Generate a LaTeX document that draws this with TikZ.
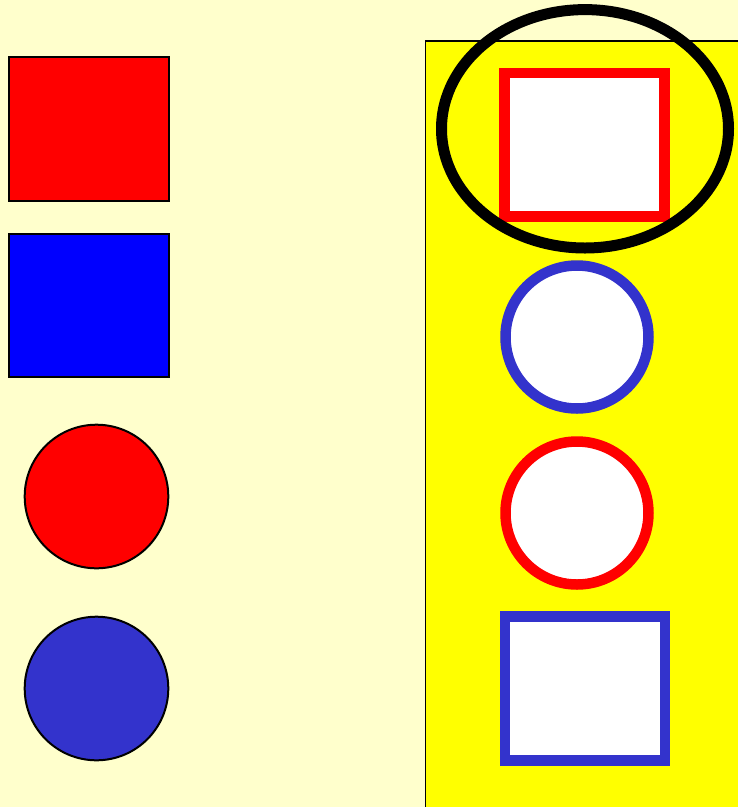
\documentclass[tikz,border=0pt]{standalone}
\usetikzlibrary{shapes.geometric}
\definecolor{bgcream}{RGB}{255,255,204}
\definecolor{panelyellow}{RGB}{255,255,0}
\definecolor{pureblue}{RGB}{0,0,255}
\definecolor{slateblue}{RGB}{51,51,204}
\definecolor{purered}{RGB}{255,0,0}
\tikzset{
  solidshape/.style={draw=black, line width=2pt},
  outlineshape/.style={fill=white, line width=10.5pt},
  panel/.style={fill=panelyellow, draw=black, line width=1.5pt},
  ring/.style={draw=black, line width=11pt}
}
\begin{document}
\begin{tikzpicture}[x=1pt,y=-1pt]
\useasboundingbox (0,0) rectangle (738,807);
\clip (0,0) rectangle (738,807);
\fill[bgcream] (0,0) rectangle (738,807);
% left column
\draw[solidshape, fill=purered] (9,57) rectangle (169,200.5);
\draw[solidshape, fill=pureblue] (9,233.5) rectangle (169,376.5);
\draw[solidshape, fill=purered] (96.5,496.5) circle (71.8);
\draw[solidshape, fill=slateblue] (96.5,688.5) circle (71.8);
% right panel
\draw[panel] (425.5,40.8) rectangle (760,830);
\draw[outlineshape, draw=purered] (504.5,73) rectangle (664.5,216.5);
\draw[outlineshape, draw=slateblue] (577,337) circle (71.5);
\draw[outlineshape, draw=purered] (577,513) circle (71.5);
\draw[outlineshape, draw=slateblue] (504.8,616.5) rectangle (665,760.5);
\draw[ring] (585,128.8) ellipse [x radius=143.5, y radius=119.2];
\end{tikzpicture}
\end{document}
